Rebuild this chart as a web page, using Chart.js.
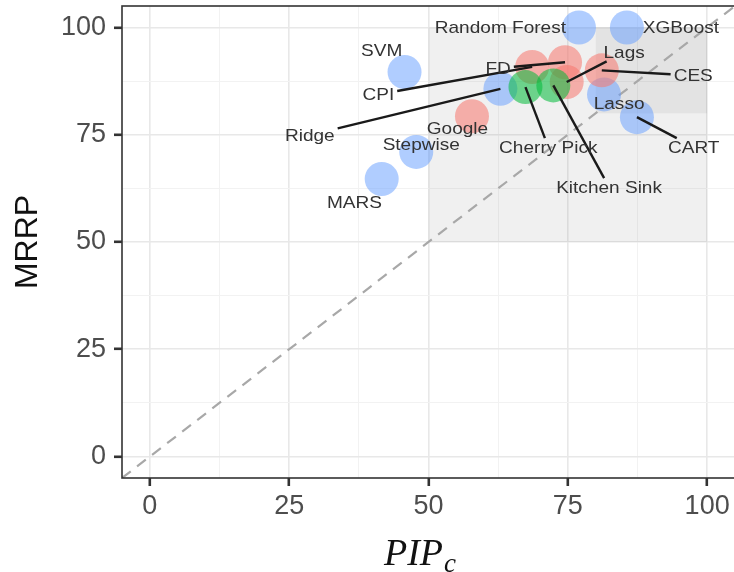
<!DOCTYPE html>
<html>
<head>
<meta charset="utf-8">
<script src="https://cdn.jsdelivr.net/npm/chart.js@4/dist/chart.umd.min.js"></script>
<style>
  html, body { margin: 0; padding: 0; background: #fff; overflow: hidden; }
  #wrap { position: relative; width: 734px; height: 572px; overflow: hidden; }
  canvas { position: absolute; left: 0; top: 0; }
</style>
</head>
<body>
<div id="wrap"><canvas id="chart" width="736" height="572"></canvas></div>
<script>
// models, grouped by colour
const blueNames = ['Random Forest', 'XGBoost', 'SVM', 'Ridge', 'Lasso', 'CART', 'Stepwise', 'MARS'];
const blueX = [77.0, 85.6, 45.7, 62.9, 81.5, 87.4, 47.8, 41.6];
const blueY = [100, 100, 89.6, 85.7, 84.4, 79.1, 71.0, 64.7];

const redNames = ['CPI', 'FD', 'Lags', 'CES', 'Google'];
const redX = [68.6, 74.5, 74.8, 81.1, 57.8];
const redY = [90.8, 91.9, 87.3, 90.0, 79.3];

const greenNames = ['Cherry Pick', 'Kitchen Sink'];
const greenX = [67.4, 72.4];
const greenY = [86.1, 86.5];

// axis ticks
const majorTicks = [0, 25, 50, 75, 100];
const gridTicks = [0, 12.5, 25, 37.5, 50, 62.5, 75, 87.5, 100];

// reference line y = x and highlighted regions [x0, x1, y0, y1]
const diagX = [-5, 105];
const diagY = [-5, 105];
const outerBox = [50, 100, 50, 100];
const innerBox = [80, 100, 80, 100];

// label anchors (data units) and whether a leader line is drawn
const labelNames = ['Random Forest', 'XGBoost', 'SVM', 'CPI', 'FD', 'Lags', 'CES', 'Lasso', 'CART',
                    'Google', 'Stepwise', 'Ridge', 'Cherry Pick', 'Kitchen Sink', 'MARS'];
const labelX = [62.9, 95.3, 41.6, 41.0, 62.5, 85.1, 97.5, 84.2, 97.6, 55.2, 48.7, 28.7, 71.5, 82.4, 36.7];
const labelY = [100, 100, 94.7, 84.4, 90.5, 94.2, 88.8, 82.3, 72.1, 76.5, 72.8, 74.9, 72.1, 62.8, 59.3];
const leader = [false, false, false, true, true, true, true, false, true, false, false, true, true, true, false];

// wanted panel box on the page (ggplot panel, right edge cut by the crop)
const panel = { left: 122, top: 6, right: 735, bottom: 478 };

function pts(xs, ys) { return xs.map((x, i) => ({ x: x, y: ys[i] })); }

const allNames = blueNames.concat(redNames, greenNames);
const allX = blueX.concat(redX, greenX);
const allY = blueY.concat(redY, greenY);

const isMajor = v => majorTicks.includes(v);
const isGrid = v => gridTicks.includes(v);

function buildTicks(s) {
  s.ticks = [s.min].concat(gridTicks, [s.max]).map(v => ({ value: v }));
}

const decor = {
  id: 'decor',
  beforeDatasetsDraw(chart) {
    const ctx = chart.ctx, xs = chart.scales.x, ys = chart.scales.y, a = chart.chartArea;
    ctx.save();
    ctx.beginPath();
    ctx.rect(a.left, a.top, a.right - a.left, a.bottom - a.top);
    ctx.clip();
    [outerBox, innerBox].forEach(b => {
      ctx.fillStyle = 'rgba(128,128,128,0.12)';
      const x0 = xs.getPixelForValue(b[0]), x1 = xs.getPixelForValue(b[1]);
      const y0 = ys.getPixelForValue(b[3]), y1 = ys.getPixelForValue(b[2]);
      ctx.fillRect(x0, y0, x1 - x0, y1 - y0);
    });
    ctx.restore();
  },
  afterDatasetsDraw(chart) {
    const ctx = chart.ctx, xs = chart.scales.x, ys = chart.scales.y, a = chart.chartArea;
    ctx.save();
    ctx.font = '17px "Liberation Sans", Arial, sans-serif';
    const sx = 1.12;
    // leader lines
    labelNames.forEach((n, i) => {
      if (!leader[i]) return;
      const k = allNames.indexOf(n);
      const px = xs.getPixelForValue(allX[k]), py = ys.getPixelForValue(allY[k]);
      const lx = xs.getPixelForValue(labelX[i]), ly = ys.getPixelForValue(labelY[i]);
      const hw = ctx.measureText(n).width * sx / 2 + 3, hh = 9;
      const dx = px - lx, dy = py - ly;
      const t = Math.min(dx ? hw / Math.abs(dx) : 1e9, dy ? hh / Math.abs(dy) : 1e9);
      ctx.beginPath();
      ctx.strokeStyle = '#1a1a1a';
      ctx.lineWidth = 2.4;
      ctx.moveTo(lx + dx * t, ly + dy * t);
      ctx.lineTo(px, py);
      ctx.stroke();
    });
    // label text
    ctx.fillStyle = '#333';
    ctx.textAlign = 'center';
    ctx.textBaseline = 'middle';
    labelNames.forEach((n, i) => {
      const lx = xs.getPixelForValue(labelX[i]), ly = ys.getPixelForValue(labelY[i]);
      ctx.save();
      ctx.translate(lx, ly);
      ctx.scale(sx, 1);
      ctx.fillText(n, 0, 1);
      ctx.restore();
    });
    // panel border
    ctx.strokeStyle = '#333';
    ctx.lineWidth = 1.6;
    ctx.strokeRect(a.left, a.top, a.right - a.left, a.bottom - a.top);
    ctx.restore();
  },
  afterDraw(chart) {
    const ctx = chart.ctx;
    const a = chart.chartArea;
    ctx.save();
    // y title
    ctx.translate(a.left - 94, (a.top + a.bottom) / 2);
    ctx.rotate(-Math.PI / 2);
    ctx.fillStyle = '#111';
    ctx.font = '32px "Liberation Sans", Arial, sans-serif';
    ctx.textAlign = 'center';
    ctx.textBaseline = 'middle';
    ctx.fillText('MRRP', 0, 0);
    ctx.restore();
    // x title PIP_c
    ctx.save();
    ctx.fillStyle = '#111';
    ctx.textAlign = 'left';
    ctx.textBaseline = 'alphabetic';
    ctx.font = 'italic 38px "Liberation Serif", "DejaVu Serif", serif';
    const base = a.bottom + 87;
    ctx.fillText('PIP', a.left + 262, base);
    const w = ctx.measureText('PIP').width;
    ctx.font = 'italic 27px "Liberation Serif", "DejaVu Serif", serif';
    ctx.fillText('c', a.left + 262 + w + 1, base + 7);
    ctx.restore();
  }
};

const tickFont = { family: '"Liberation Sans", Arial, sans-serif', size: 27 };
const gridOpts = {
  color: c => isMajor(c.tick.value) ? '#e8e8e8' : '#f2f2f2',
  lineWidth: c => !isGrid(c.tick.value) ? 0 : (isMajor(c.tick.value) ? 1.6 : 1),
  tickColor: '#333',
  tickWidth: c => isMajor(c.tick.value) ? 2.6 : 0,
  tickLength: 8
};

function config() {
  return {
    type: 'scatter',
    data: {
      datasets: [
        {
          label: 'y = x',
          data: pts(diagX, diagY),
          showLine: true,
          pointRadius: 0,
          borderColor: '#a8a8a8',
          borderWidth: 2.2,
          borderDash: [11, 8],
          order: 4
        },
        {
          label: 'blue',
          data: pts(blueX, blueY),
          pointRadius: 17,
          pointHoverRadius: 17,
          backgroundColor: 'rgba(97,156,255,0.5)',
          borderWidth: 0,
          order: 3
        },
        {
          label: 'red',
          data: pts(redX, redY),
          pointRadius: 17,
          pointHoverRadius: 17,
          backgroundColor: 'rgba(248,118,109,0.55)',
          borderWidth: 0,
          order: 2
        },
        {
          label: 'green',
          data: pts(greenX, greenY),
          pointRadius: 17,
          pointHoverRadius: 17,
          backgroundColor: 'rgba(0,186,56,0.55)',
          borderWidth: 0,
          order: 1
        }
      ]
    },
    options: {
      responsive: false,
      maintainAspectRatio: false,
      devicePixelRatio: 1,
      animation: false,
      layout: { padding: 0 },
      plugins: { legend: { display: false }, tooltip: { enabled: false } },
      scales: {
        x: {
          type: 'linear',
          min: -5,
          max: 105,
          afterFit: s => { s.height = 94; },
          afterBuildTicks: buildTicks,
          ticks: {
            autoSkip: false,
            maxRotation: 0,
            padding: 4,
            color: '#4d4d4d',
            font: tickFont,
            callback: v => isMajor(v) ? String(v) : []
          },
          grid: gridOpts,
          border: { display: false }
        },
        y: {
          type: 'linear',
          min: -5,
          max: 105,
          afterFit: s => { s.width = 122; },
          afterBuildTicks: buildTicks,
          ticks: {
            autoSkip: false,
            padding: 8,
            color: '#4d4d4d',
            font: tickFont,
            callback: v => isMajor(v) ? String(v) : []
          },
          grid: gridOpts,
          border: { display: false }
        }
      }
    },
    plugins: [decor]
  };
}

// first pass measures how much room Chart.js keeps round the panel,
// second pass sizes and shifts the canvas so the panel lands where wanted
const canvas = document.getElementById('chart');
let chart = new Chart(canvas, config());
const a = chart.chartArea;
const offX = a.left - panel.left;
const offY = a.top - panel.top;
const dW = (panel.right - panel.left) - (a.right - a.left);
const dH = (panel.bottom - panel.top) - (a.bottom - a.top);
const W = canvas.width + dW, H = canvas.height + dH;
chart.destroy();
canvas.width = W;
canvas.height = H;
canvas.style.width = W + 'px';
canvas.style.height = H + 'px';
canvas.style.left = (-offX) + 'px';
canvas.style.top = (-offY) + 'px';
chart = new Chart(canvas, config());
</script>
</body>
</html>
